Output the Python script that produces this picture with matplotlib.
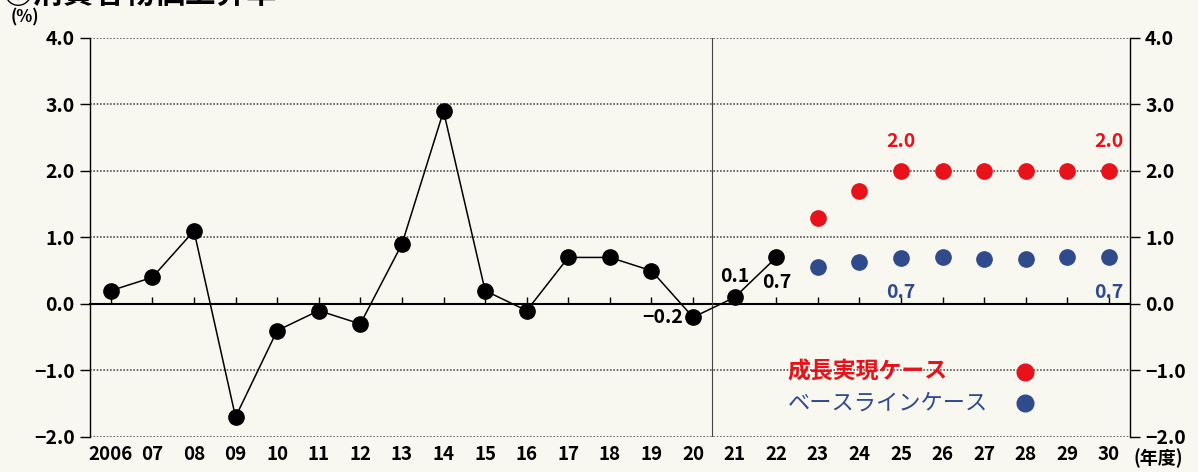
import matplotlib
matplotlib.use("Agg")
import matplotlib.pyplot as plt

plt.rcParams['font.family'] = ['Noto Sans CJK JP', 'DejaVu Sans']

years = ['2006', '07', '08', '09', '10', '11', '12', '13', '14', '15', '16', '17',
         '18', '19', '20', '21', '22', '23', '24', '25', '26', '27', '28', '29', '30']
actual = [0.2, 0.4, 1.1, -1.7, -0.4, -0.1, -0.3, 0.9, 2.9, 0.2, -0.1, 0.7,
          0.7, 0.5, -0.2, 0.1, 0.7]
growth = [1.3, 1.7, 2.0, 2.0, 2.0, 2.0, 2.0, 2.0]
baseline = [0.55, 0.63, 0.69, 0.7, 0.68, 0.68, 0.7, 0.7]

bg = '#f8f7f0'
red = '#e8121a'
blue = '#2f4b8c'

fig = plt.figure(figsize=(11.98, 4.72), dpi=100, facecolor=bg)
ax = fig.add_axes([0.0751, 0.0742, 0.8680, 0.8453], facecolor=bg)

x_act = list(range(len(actual)))
x_proj = list(range(len(actual), len(years)))

ax.plot(x_act, actual, color='black', lw=1.1, marker='o', ms=11,
        markerfacecolor='black', zorder=4)
ax.plot(x_proj, growth, ls='none', marker='o', ms=11, color=red, zorder=4)
ax.plot(x_proj, baseline, ls='none', marker='o', ms=11, color=blue, zorder=4)

ax.set_xlim(-0.5, len(years) - 0.5)
ax.set_ylim(-2.0, 4.0)
ax.set_yticks([-2, -1, 0, 1, 2, 3, 4])
ax.set_yticklabels(['−2.0', '−1.0', '0.0', '1.0', '2.0', '3.0', '4.0'],
                   fontsize=14, fontweight='bold')
ax.tick_params(axis='y', which='both', direction='out', length=7, width=1,
               left=True, right=True, labelleft=True, labelright=True, pad=4)
ax.set_xticks(range(len(years)))
ax.set_xticklabels(years, fontsize=13.5, fontweight='bold')
ax.tick_params(axis='x', length=0, pad=6)

for v in [-2, -1, 1, 2, 3, 4]:
    ax.axhline(v, color='#555555', lw=1.2, ls=(0, (1, 1)), zorder=1)
ax.axvline(14.45, color='#444444', lw=0.8, zorder=2)

for s in ['top', 'bottom']:
    ax.spines[s].set_visible(False)
ax.spines['left'].set_linewidth(1.0)
ax.spines['right'].set_linewidth(1.0)

zero = ax.secondary_xaxis(2 / 6)
zero.set_xticks(range(len(years)))
zero.set_xticklabels([])
zero.tick_params(direction='in', length=5, width=1)
zero.spines['bottom'].set_linewidth(1.5)

# value labels
ax.text(14 - 0.25, -0.2, '−0.2', ha='right', va='center', fontsize=14, fontweight='bold')
ax.text(15, 0.42, '0.1', ha='center', va='center', fontsize=14, fontweight='bold')
ax.text(16, 0.32, '0.7', ha='center', va='center', fontsize=14, fontweight='bold')
for i in [19, 24]:
    ax.text(i, 2.45, f'{growth[i - len(actual)]:.1f}', ha='center', va='center',
            fontsize=14, fontweight='bold', color=red)
    ax.text(i, 0.17, f'{baseline[i - len(actual)]:.1f}', ha='center', va='center',
            fontsize=14, fontweight='bold', color=blue)

# legend
ax.text(16.27, -1.02, '成長実現ケース', ha='left', va='center', fontsize=16.5,
        fontweight='bold', color=red)
ax.plot([21.97], [-1.02], marker='o', ms=12, color=red, clip_on=False)
ax.text(16.27, -1.49, 'ベースラインケース', ha='left', va='center', fontsize=16,
        color=blue)
ax.plot([21.97], [-1.49], marker='o', ms=12, color=blue, clip_on=False)

fig.text(0.009, 0.962, '(%)', fontsize=12, fontweight='bold', va='center')
fig.text(0.946, 0.03, '(年度)', fontsize=13, fontweight='bold', va='center')
fig.text(0.002, 1.012, '◎消費者物価上昇率', fontsize=22, fontweight='bold', va='center')

fig.savefig('out.png', dpi=100, facecolor=bg)
